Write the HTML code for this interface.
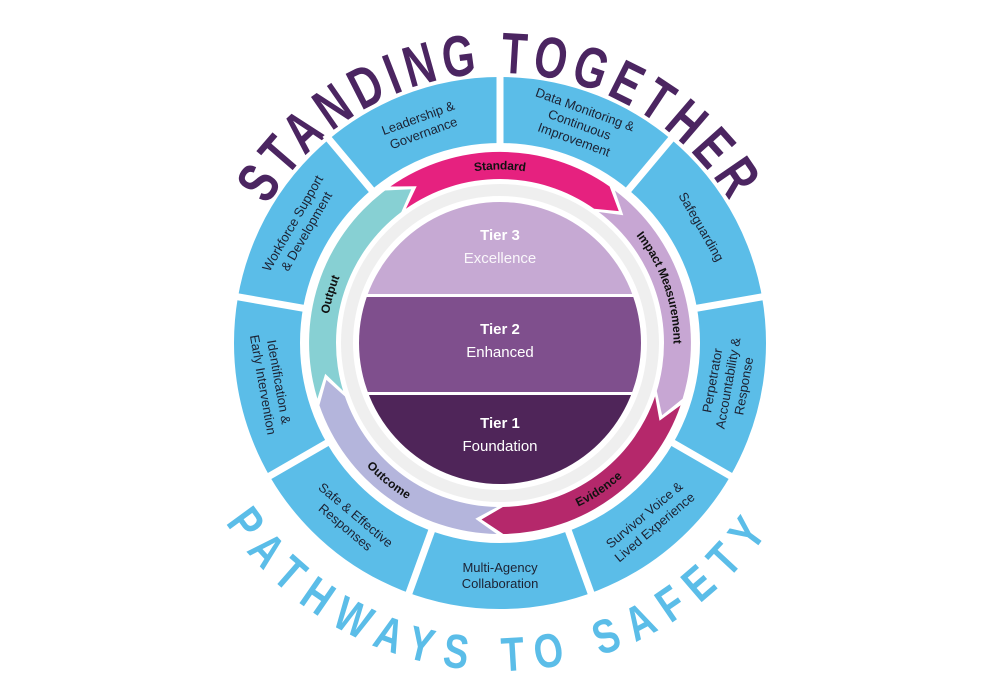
<!DOCTYPE html>
<html><head><meta charset="utf-8"><style>
html,body{margin:0;padding:0;background:#fff;}
svg{display:block;}
.seg{font-family:"Liberation Sans",sans-serif;font-size:13px;fill:#1c2233;text-anchor:middle;}
.arr{font-family:"Liberation Sans",sans-serif;font-size:12px;font-weight:bold;fill:#111;}
.tier{font-family:"Liberation Sans",sans-serif;fill:#fff;text-anchor:middle;}
.title{font-family:"Liberation Sans",sans-serif;font-weight:bold;}
</style></head><body>
<svg width="1000" height="700" viewBox="0 0 1000 700" xmlns="http://www.w3.org/2000/svg">
<defs>
<path id="tTop" d="M246.3,250.7 A270 270 0 0 1 753.7,250.7"/>
<path id="tBot" d="M191.8,455.2 A328 328 0 0 0 808.2,455.2"/>
<path id="pStd" d="M385.9,207 A177.5 177.5 0 0 1 614.1,207"/>
<path id="pImp" d="M591.4,190.8 A177.5 177.5 0 0 1 665.7,406.6"/>
<path id="pEvi" d="M481.5,519.5 A177.5 177.5 0 0 0 670.6,391.9"/>
<path id="pOutc" d="M325.8,376.9 A177.5 177.5 0 0 0 503.1,520.5"/>
<path id="pOutp" d="M337.9,415.2 A177.5 177.5 0 0 1 400.7,195.9"/>
<clipPath id="cc"><circle cx="500" cy="343" r="141"/></clipPath>
</defs>

<!-- titles -->
<text class="title" font-size="58" fill="#4b2561" letter-spacing="8"><textPath href="#tTop" startOffset="50%" text-anchor="middle" textLength="560" lengthAdjust="spacingAndGlyphs">STANDING TOGETHER</textPath></text>
<text class="title" font-size="48" fill="#5bbde8" letter-spacing="16"><textPath href="#tBot" startOffset="50%" text-anchor="middle" textLength="650" lengthAdjust="spacingAndGlyphs">PATHWAYS TO SAFETY</textPath></text>

<!-- blue ring -->
<circle cx="500" cy="343" r="233" fill="none" stroke="#5bbde8" stroke-width="66"/>
<g stroke="#fff" stroke-width="7">
<line x1="500" y1="148" x2="500" y2="71"/>
<line x1="625.3" y1="193.6" x2="674.8" y2="134.6"/>
<line x1="692" y1="309.1" x2="767.9" y2="295.8"/>
<line x1="668.9" y1="440.5" x2="735.6" y2="479"/>
<line x1="566.7" y1="526.2" x2="593" y2="598.6"/>
<line x1="433.3" y1="526.2" x2="407" y2="598.6"/>
<line x1="331.1" y1="440.5" x2="264.4" y2="479"/>
<line x1="308" y1="309.1" x2="232.1" y2="295.8"/>
<line x1="374.7" y1="193.6" x2="325.2" y2="134.6"/>
</g>

<!-- segment labels -->
<text class="seg" transform="translate(420.6,125) rotate(-20)"><tspan x="0" y="-3">Leadership &amp;</tspan><tspan x="0" y="13">Governance</tspan></text>
<text class="seg" transform="translate(579.4,125) rotate(20)"><tspan x="0" y="-12">Data Monitoring &amp;</tspan><tspan x="0" y="4">Continuous</tspan><tspan x="0" y="20">Improvement</tspan></text>
<text class="seg" transform="translate(700.9,227) rotate(60)"><tspan x="0" y="4">Safeguarding</tspan></text>
<text class="seg" transform="translate(728.5,383.3) rotate(-80)"><tspan x="0" y="-12">Perpetrator</tspan><tspan x="0" y="4">Accountability &amp;</tspan><tspan x="0" y="20">Response</tspan></text>
<text class="seg" transform="translate(649.1,520.7) rotate(-40)"><tspan x="0" y="-3">Survivor Voice &amp;</tspan><tspan x="0" y="13">Lived Experience</tspan></text>
<text class="seg" transform="translate(500,575) rotate(0)"><tspan x="0" y="-3">Multi-Agency</tspan><tspan x="0" y="13">Collaboration</tspan></text>
<text class="seg" transform="translate(350.9,520.7) rotate(40)"><tspan x="0" y="-3">Safe &amp; Effective</tspan><tspan x="0" y="13">Responses</tspan></text>
<text class="seg" transform="translate(271.5,383.3) rotate(80)"><tspan x="0" y="-3">Identification &amp;</tspan><tspan x="0" y="13">Early Intervention</tspan></text>
<text class="seg" transform="translate(299.1,227) rotate(-60)"><tspan x="0" y="-3">Workforce Support</tspan><tspan x="0" y="13">&amp; Development</tspan></text>

<!-- arrows -->
<path fill="#e6217f" d="M390.4,186.5 A191 191 0 0 1 609.6,186.5 L618.8,211.1 L594.1,208.7 A164 164 0 0 0 405.9,208.7 L416.7,186.3 Z"/>
<path fill="#c7a6d3" d="M614.9,190.5 A191 191 0 0 1 682.6,398.8 L662.1,415.2 L656.8,391 A164 164 0 0 0 598.7,212 L623.3,215.3 Z"/>
<path fill="#b5286b" d="M680.6,405.2 A191 191 0 0 1 503.3,534 L481.5,519.5 L502.9,507 A164 164 0 0 0 655.1,396.4 L659.5,420.8 Z"/>
<path fill="#b4b5dc" d="M496.7,534 A191 191 0 0 1 319.4,405.2 L326.4,379.9 L344.9,396.4 A164 164 0 0 0 497.1,507 L475.3,518.8 Z"/>
<path fill="#87d0d3" d="M317.4,398.8 A191 191 0 0 1 385.1,190.5 L411.25,189.3 L401.3,212 A164 164 0 0 0 343.2,391 L325.2,373.8 Z"/>

<text class="arr" dominant-baseline="central"><textPath href="#pStd" startOffset="50%" text-anchor="middle">Standard</textPath></text>
<text class="arr" dominant-baseline="central"><textPath href="#pImp" startOffset="50%" text-anchor="middle">Impact Measurement</textPath></text>
<text class="arr" dominant-baseline="central"><textPath href="#pEvi" startOffset="50%" text-anchor="middle">Evidence</textPath></text>
<text class="arr" dominant-baseline="central"><textPath href="#pOutc" startOffset="50%" text-anchor="middle">Outcome</textPath></text>
<text class="arr" dominant-baseline="central"><textPath href="#pOutp" startOffset="50%" text-anchor="middle">Output</textPath></text>

<!-- inner rings -->
<circle cx="500" cy="343" r="159" fill="#efefef"/>
<circle cx="500" cy="343" r="147" fill="#fff"/>
<g clip-path="url(#cc)">
<rect x="350" y="195" width="300" height="99" fill="#c6a9d3"/>
<rect x="350" y="297" width="300" height="95" fill="#7f4f8d"/>
<rect x="350" y="395" width="300" height="100" fill="#4f2559"/>
</g>
<text class="tier" x="500" y="240" font-size="15" font-weight="bold">Tier 3</text>
<text class="tier" x="500" y="263" font-size="15" fill-opacity="0.9">Excellence</text>
<text class="tier" x="500" y="334" font-size="15" font-weight="bold">Tier 2</text>
<text class="tier" x="500" y="357" font-size="15">Enhanced</text>
<text class="tier" x="500" y="428" font-size="15" font-weight="bold">Tier 1</text>
<text class="tier" x="500" y="451" font-size="15">Foundation</text>
</svg>
</body></html>
